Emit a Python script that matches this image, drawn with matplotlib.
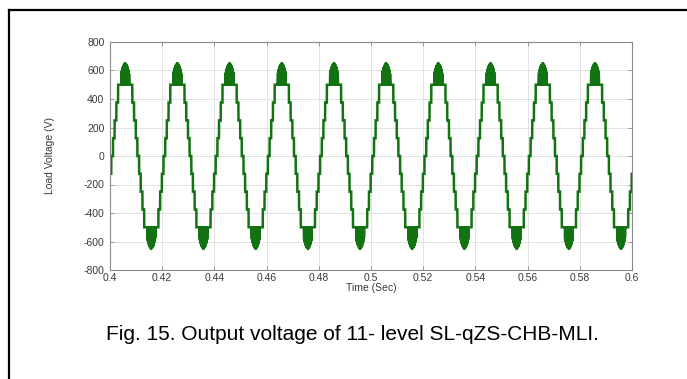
import numpy as np
import matplotlib
matplotlib.use('Agg')
import matplotlib.pyplot as plt
from matplotlib.lines import Line2D

# ---- data ----
t_start, t_end = 0.4, 0.6
freq_hz = 50.0
zero_cross_s = 0.4008
step_levels_v = [125, 250, 375, 500, 625]
switch_angles_deg = [6, 17, 29, 41, 63]
peak_v = 645
pwm_carrier_hz = 25000.0

x_ticks = [0.4, 0.42, 0.44, 0.46, 0.48, 0.5, 0.52, 0.54, 0.56, 0.58, 0.6]
x_tick_labels = ['0.4', '0.42', '0.44', '0.46', '0.48', '0.5', '0.52', '0.54', '0.56', '0.58', '0.6']
y_ticks = [-800, -600, -400, -200, 0, 200, 400, 600, 800]
y_tick_labels = ['-800', '-600', '-400', '-200', '0', '200', '400', '600', '800']
x_label = 'Time (Sec)'
y_label = 'Load Voltage (V)'
caption = 'Fig. 15. Output voltage of 11- level SL-qZS-CHB-MLI.'

# ---- build staircase waveform from levels and switching angles ----
t = np.arange(t_start, t_end + 1e-9, 1e-6)
theta = np.mod(2 * np.pi * freq_hz * (t - zero_cross_s), 2 * np.pi)
sign = np.where(theta < np.pi, 1.0, -1.0)
half = np.mod(theta, np.pi)
a = np.minimum(half, np.pi - half)
a_deg = np.degrees(a)
k = np.searchsorted(np.array(switch_angles_deg), a_deg)
lv = np.concatenate([[0.0], np.array(step_levels_v, dtype=float)])
v = lv[k]
top = k == len(step_levels_v)
carrier = np.abs(np.mod(t * pwm_carrier_hz, 1.0) * 2 - 1)
env = peak_v * np.sin(a)
duty = np.clip((env - step_levels_v[-2]) / (step_levels_v[-1] - step_levels_v[-2]), 0.3, 0.7)
on = carrier < duty
v = np.where(top, np.where(on, env, step_levels_v[-2]), v)
v = v * sign

# ---- figure ----
plt.rcParams['font.family'] = ['Liberation Sans', 'DejaVu Sans']
fig = plt.figure(figsize=(6.87, 3.79), dpi=100)
W, H = 687.0, 379.0
ax = fig.add_axes([110 / W, 1 - 270 / H, 522 / W, 228 / H])

ax.plot(t, v, color='#137313', lw=1.8, solid_joinstyle='miter')

ax.set_xlim(t_start, t_end)
ax.set_ylim(-800, 800)
ax.set_xticks(x_ticks)
ax.set_xticklabels(x_tick_labels)
ax.set_yticks(y_ticks)
ax.set_yticklabels(y_tick_labels)
ax.grid(True, color='#e2e2e2', lw=0.7)
ax.set_axisbelow(True)
for s in ax.spines.values():
    s.set_color('#8a8a8a')
    s.set_linewidth(0.8)
ax.tick_params(direction='in', length=3, width=0.6, colors='#8a8a8a',
               labelcolor='#3a3a3a', labelsize=7.5, top=True, right=True)
ax.tick_params(axis='x', pad=2)
ax.tick_params(axis='y', pad=4)

ax.set_xlabel(x_label, fontsize=7.5, color='#3a3a3a')
ax.xaxis.set_label_coords(0.5, -0.056)
ax.set_ylabel(y_label, fontsize=7.5, color='#3a3a3a')
ax.yaxis.set_label_coords(-0.105, 0.5)

fig.text(352 / W, 1 - 334 / H, caption, ha='center', va='center',
         fontsize=15, color='black')

# frame lines (top and left)
fig.add_artist(Line2D([9 / W, 1.0], [1 - 9.5 / H, 1 - 9.5 / H], color='black', lw=1.6))
fig.add_artist(Line2D([9 / W, 9 / W], [0.0, 1 - 9.5 / H], color='black', lw=1.6))

fig.savefig('out.png', dpi=100)
